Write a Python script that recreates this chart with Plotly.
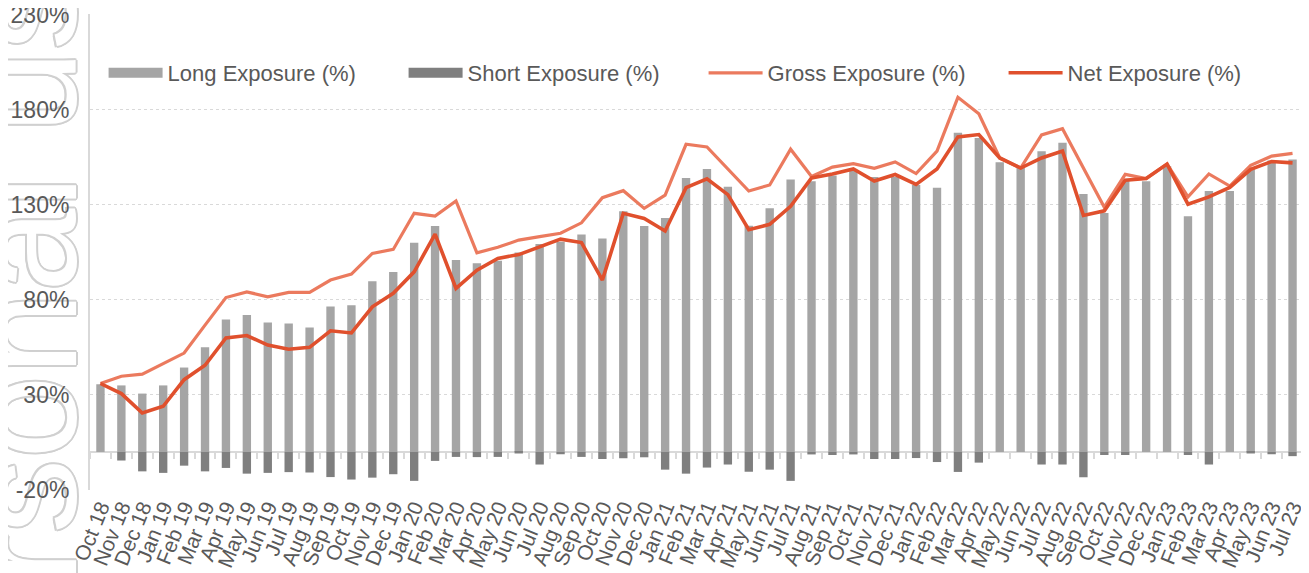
import plotly.graph_objects as go

months = ["Oct 18", "Nov 18", "Dec 18",
          "Jan 19", "Feb 19", "Mar 19", "Apr 19", "May 19", "Jun 19", "Jul 19", "Aug 19", "Sep 19", "Oct 19", "Nov 19", "Dec 19",
          "Jan 20", "Feb 20", "Mar 20", "Apr 20", "May 20", "Jun 20", "Jul 20", "Aug 20", "Sep 20", "Oct 20", "Nov 20", "Dec 20",
          "Jan 21", "Feb 21", "Mar 21", "Apr 21", "May 21", "Jun 21", "Jul 21", "Aug 21", "Sep 21", "Oct 21", "Nov 21", "Dec 21",
          "Jan 22", "Feb 22", "Mar 22", "Apr 22", "May 22", "Jun 22", "Jul 22", "Aug 22", "Sep 22", "Oct 22", "Nov 22", "Dec 22",
          "Jan 23", "Feb 23", "Mar 23", "Apr 23", "May 23", "Jun 23", "Jul 23"]

long_exposure = [35.6, 35.0, 30.7,
                 35.0, 44.4, 55.0, 69.7, 72.0, 68.1, 67.6, 65.5, 76.5, 77.2, 89.8, 94.6,
                 110.0, 118.8, 100.9, 99.2, 100.5, 104.9, 109.3, 110.5, 114.4, 112.3, 126.6, 118.8,
                 123.0, 144.1, 148.8, 139.5, 118.9, 128.1, 143.3, 142.3, 145.4, 147.7, 144.6, 144.6,
                 140.4, 139.0, 167.8, 165.1, 152.3, 149.3, 158.1, 162.6, 135.6, 125.6, 142.5, 142.4,
                 150.3, 124.0, 137.2, 137.2, 148.6, 153.3, 153.8]

short_exposure = [0.0, -4.5, -10.2,
                  -11.0, -7.2, -10.2, -8.4, -11.4, -11.0, -10.6, -10.8, -13.2, -14.5, -13.5, -11.7,
                  -15.2, -4.7, -2.6, -2.7, -2.6, -0.8, -6.6, -1.2, -2.6, -3.7, -3.3, -2.8,
                  -9.3, -11.4, -8.2, -6.6, -10.4, -9.3, -15.2, -1.3, -1.6, -1.3, -3.7, -3.7,
                  -3.2, -5.3, -10.5, -5.6, 0.0, 0.0, -6.6, -6.6, -13.3, -1.6, -1.6, 0.0,
                  0.0, -1.6, -6.6, 0.0, -0.8, -1.2, -2.2]

gross_exposure = [36.0, 39.8, 40.9,
                  46.5, 52.0, 66.7, 81.2, 84.2, 81.6, 83.9, 83.9, 90.4, 93.5, 104.4, 106.5,
                  125.5, 124.0, 132.0, 104.7, 107.6, 111.4, 113.2, 115.0, 120.5, 133.7, 137.4, 128.1,
                  135.0, 161.8, 160.4, 148.8, 137.2, 140.4, 159.2, 144.9, 149.8, 151.6, 149.2, 152.5,
                  146.4, 158.2, 186.5, 177.8, 154.6, 149.3, 166.7, 170.0, 149.0, 128.7, 146.0, 143.8,
                  151.4, 134.1, 146.2, 139.8, 150.7, 155.6, 157.0]

net_exposure = [36.0, 30.7, 20.5,
                24.0, 38.0, 45.6, 60.0, 61.2, 56.2, 54.0, 55.0, 63.7, 62.6, 76.3, 83.4,
                94.7, 114.6, 86.0, 95.6, 101.8, 103.8, 107.9, 111.9, 110.1, 90.4, 125.5, 122.8,
                116.2, 139.0, 143.6, 135.3, 116.9, 119.7, 129.2, 144.1, 146.2, 148.8, 142.5, 145.9,
                140.7, 148.8, 165.7, 166.9, 154.6, 149.3, 154.6, 158.3, 124.4, 126.8, 142.9, 143.8,
                151.4, 130.3, 134.1, 139.1, 148.6, 152.7, 152.0]

y_ticks = [-20, 30, 80, 130, 180, 230]

FONT = "Liberation Sans, Arial, sans-serif"
TXT = "#595959"
GRID = "#d9d9d9"
LONG_C = "#A5A5A5"
SHORT_C = "#7F7F7F"
GROSS_C = "#EB7A5E"
NET_C = "#E0502D"
PLOT_W = 1213

fig = go.Figure()
fig.add_trace(go.Bar(x=months, y=long_exposure, name="Long Exposure (%)", showlegend=False,
                     marker=dict(color=LONG_C, line=dict(width=0)), width=0.4))
fig.add_trace(go.Bar(x=months, y=short_exposure, name="Short Exposure (%)", showlegend=False,
                     marker=dict(color=SHORT_C, line=dict(width=0)), width=0.4))
fig.add_trace(go.Scatter(x=months, y=gross_exposure, name="Gross Exposure (%)", mode="lines",
                         line=dict(color=GROSS_C, width=3.2), showlegend=False))
fig.add_trace(go.Scatter(x=months, y=net_exposure, name="Net Exposure (%)", mode="lines",
                         line=dict(color=NET_C, width=3.6), showlegend=False))
# legend keys (wide rectangles for the bars, lines for the lines), as in the original
for nm, col, w in [("Long Exposure (%)", LONG_C, 12), ("Short Exposure (%)", SHORT_C, 12),
                   ("Gross Exposure (%)", GROSS_C, 3.2), ("Net Exposure (%)", NET_C, 3.6)]:
    fig.add_trace(go.Scatter(x=[None], y=[None], mode="lines", name=nm,
                             line=dict(color=col, width=w), hoverinfo="skip"))
# helper trace for the tick marks along the zero line
fig.add_trace(go.Scatter(x=months, y=long_exposure, xaxis="x2", mode="markers",
                         marker=dict(opacity=0), showlegend=False, hoverinfo="skip"))

outline = ", ".join(f"{dx}px {dy}px 0 #d0d0d0" for dx, dy in
                    [(-1.5, -1.5), (1.5, -1.5), (-1.5, 1.5), (1.5, 1.5), (0, -2), (0, 2), (-2, 0), (2, 0)])

cx = -80    # watermark centre relative to plot left edge, px
cy = 0.670  # watermark centre, paper fraction
fig.add_shape(type="rect", xref="paper", yref="paper",
              x0=(cx - 20) / PLOT_W, x1=(cx + 20) / PLOT_W, y0=cy - 0.5, y1=cy + 0.5,
              line=dict(width=0), fillcolor="rgba(0,0,0,0)", layer="below",
              label=dict(text="Personal use only", textangle=-90, textposition="middle center",
                         font=dict(family=FONT, size=150, color="white", shadow=outline)))

fig.update_layout(
    width=1301, height=565,
    margin=dict(l=82, r=6, t=6, b=83, autoexpand=False),
    paper_bgcolor="white", plot_bgcolor="white",
    barmode="overlay",
    font=dict(family=FONT, color=TXT, size=22),
    showlegend=True,
    legend=dict(orientation="h", x=0.0112, xanchor="left", y=0.876, yanchor="middle",
                font=dict(size=22, color=TXT), entrywidth=231, entrywidthmode="pixels",
                itemwidth=54, bgcolor="rgba(0,0,0,0)"),
    xaxis=dict(type="category", categoryorder="array", categoryarray=months,
               range=[-0.5, len(months) - 0.5], automargin=False,
               tickmode="array", tickvals=months, ticktext=months,
               showline=False, ticks="", showgrid=False, tickangle=-68,
               tickfont=dict(size=21, color=TXT, family=FONT)),
    xaxis2=dict(type="category", categoryorder="array", categoryarray=months,
                range=[-0.5, len(months) - 0.5], overlaying="x", anchor="free", position=0.08,
                showline=False, showgrid=False, showticklabels=False, automargin=False,
                ticks="outside", ticklen=6, tickwidth=1.5, tickcolor=GRID, tickson="boundaries"),
    yaxis=dict(range=[-20, 230.3], tickvals=y_ticks, ticktext=[f"{v}%" for v in y_ticks],
               automargin=False, ticklabeloverflow="allow",
               showgrid=True, gridcolor=GRID, griddash="dot", gridwidth=1,
               showline=True, linecolor=GRID, linewidth=2,
               zeroline=True, zerolinecolor=GRID, zerolinewidth=2,
               ticks="", ticklabelstandoff=14,
               tickfont=dict(size=23, color=TXT, family=FONT)),
)

fig.write_html("out.html")
